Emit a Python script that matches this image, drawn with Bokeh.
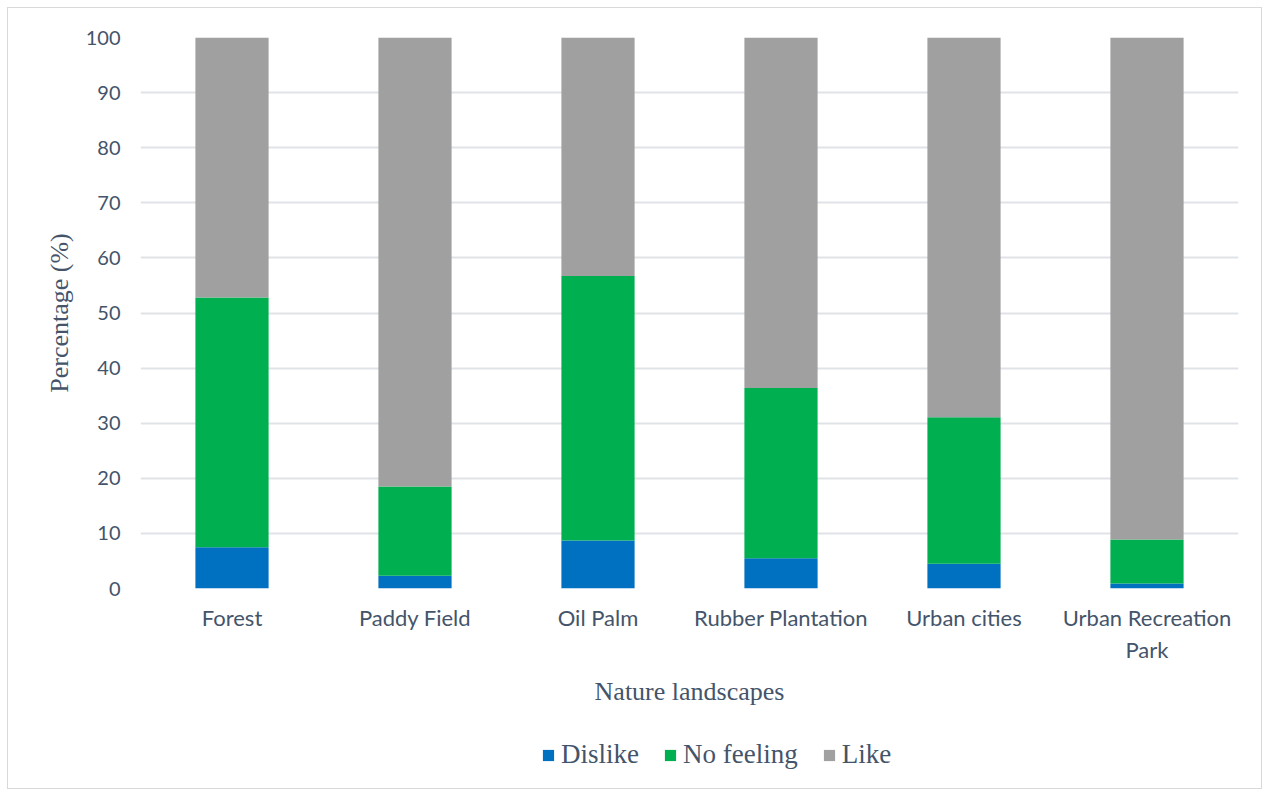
from bokeh.plotting import figure
from bokeh.layouts import column
from bokeh.models import ColumnDataSource, Legend, LegendItem, FixedTicker, Range1d
from bokeh.embed import file_html
from bokeh.resources import INLINE

categories = ["Forest", "Paddy Field", "Oil Palm", "Rubber Plantation", "Urban cities", "Urban Recreation\nPark"]
dislike = [7.5, 2.3, 8.7, 5.5, 4.5, 0.9]
no_feeling = [45.3, 16.2, 48.0, 30.9, 26.6, 8.0]
like = [47.2, 81.5, 43.3, 63.6, 68.9, 91.1]
series = ["Dislike", "No feeling", "Like"]
colors = ["#0070c0", "#00b050", "#a0a0a0"]
y_ticks = [0, 10, 20, 30, 40, 50, 60, 70, 80, 90, 100]

src = ColumnDataSource(dict(x=categories, Dislike=dislike, **{"No feeling": no_feeling}, Like=like))

TXT = "#44546a"
p = figure(x_range=categories, y_range=Range1d(0, 100), width=1253, height=710,
           output_backend="svg", toolbar_location=None,
           min_border_left=132, min_border_right=23, min_border_top=29, min_border_bottom=130)

rs = p.vbar_stack(series, x="x", width=0.4, source=src, color=colors, line_width=0)

p.outline_line_color = None
p.xgrid.grid_line_color = None
p.ygrid.grid_line_color = "#dfe3e8"
p.ygrid.grid_line_width = 2
p.yaxis.ticker = FixedTicker(ticks=y_ticks)
for ax in (p.xaxis, p.yaxis):
    ax.axis_line_color = None
    ax.major_tick_line_color = None
    ax.minor_tick_line_color = None
    ax.major_label_text_font = "Lato"
    ax.major_label_text_color = TXT
    ax.axis_label_text_font = "Liberation Serif"
    ax.axis_label_text_font_size = "26px"
    ax.axis_label_text_font_style = "normal"
    ax.axis_label_text_color = TXT
p.yaxis.major_label_text_font_size = "20px"
p.xaxis.major_label_text_font_size = "22px"
p.yaxis.axis_label = "Percentage (%)"
p.xaxis.axis_label = "Nature landscapes"
p.yaxis.major_label_standoff = 14
p.yaxis.axis_label_standoff = 9
p.xaxis.major_label_standoff = 9
p.xaxis.axis_label_standoff = 11
p.x_range.range_padding = 0

# legend strip (hidden renderers only provide the swatches)
lg = figure(x_range=categories, y_range=Range1d(0, 100), width=1253, height=70,
            output_backend="svg", toolbar_location=None,
            min_border_left=0, min_border_right=0, min_border_top=0, min_border_bottom=0)
lg.axis.visible = False
lg.grid.visible = False
lg.outline_line_color = None
lrs = lg.vbar_stack(series, x="x", width=0.4, source=src, color=colors, line_width=0)
for r in lrs:
    r.visible = False

legend = Legend(items=[LegendItem(label=s, renderers=[r]) for s, r in zip(series, lrs)],
                orientation="horizontal", location=(401, 18),
                label_text_font="Liberation Serif", label_text_font_size="27px",
                label_text_color=TXT, glyph_width=14, glyph_height=14,
                spacing=24, label_standoff=6, padding=0, margin=0,
                border_line_color=None, background_fill_alpha=0)
lg.add_layout(legend, "center")

layout = column(p, lg, spacing=0)
layout.styles = {"margin": "7px 0 0 7px", "border": "1px solid #d9d9d9"}

open("out.html", "w").write(file_html(layout, INLINE))
